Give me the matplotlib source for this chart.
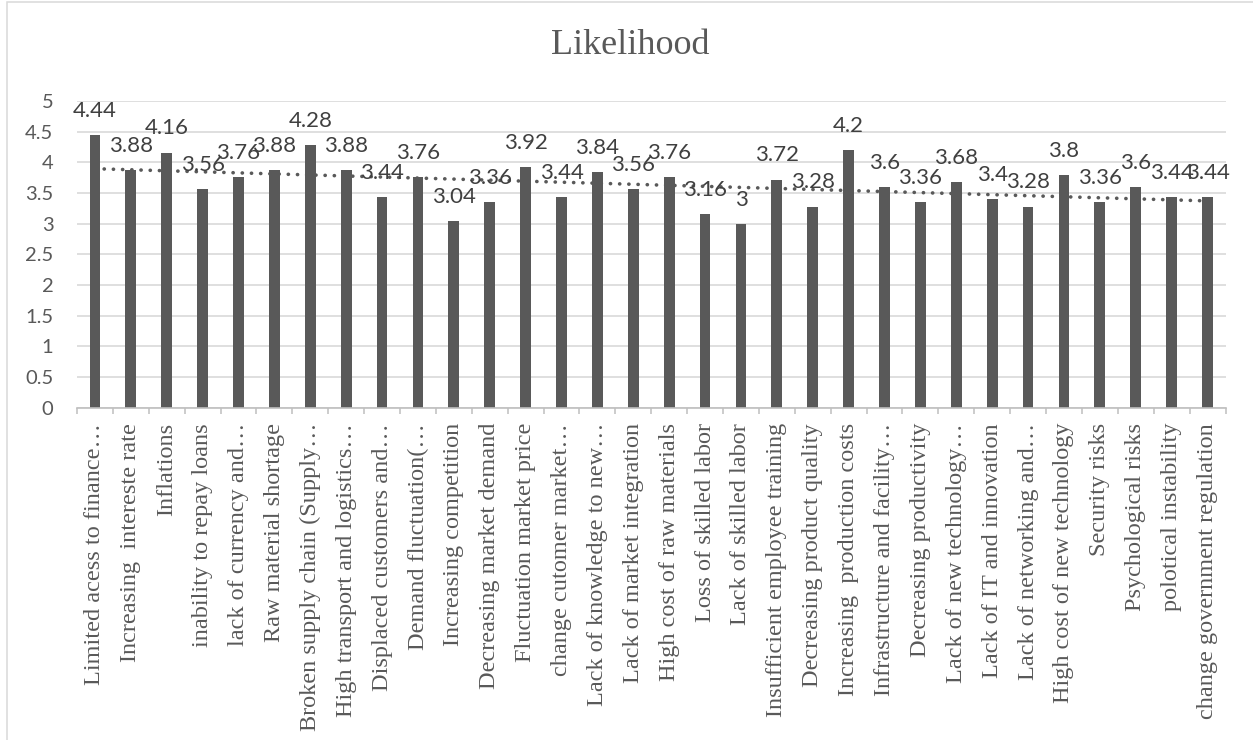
import numpy as np
import matplotlib
matplotlib.use("Agg")
import matplotlib.pyplot as plt
from matplotlib.patches import Rectangle
from matplotlib.ticker import FixedLocator

categories = [
    "Limited acess to finance…",
    "Increasing  intereste rate",
    "Inflations",
    "inability to repay loans",
    "lack of currency and…",
    "Raw material shortage",
    "Broken supply chain (Supply…",
    "High transport and logistics…",
    "Displaced customers and…",
    "Demand fluctuation(…",
    "Increasing competition",
    "Decreasing market demand",
    "Fluctuation market price",
    "change cutomer market…",
    "Lack of knowledge to new…",
    "Lack of market integration",
    "High cost of raw materials",
    "Loss of skilled labor",
    "Lack of skilled labor",
    "Insufficient employee training",
    "Decreasing product quality",
    "Increasing  production costs",
    "Infrastructure and facility…",
    "Decreasing productivity",
    "Lack of new technology…",
    "Lack of IT and innovation",
    "Lack of networking and…",
    "High cost of new technology",
    "Security risks",
    "Psychological risks",
    "polotical instability",
    "change government regulation",
]

likelihood = [
    4.44, 3.88, 4.16, 3.56, 3.76, 3.88, 4.28, 3.88, 3.44, 3.76,
    3.04, 3.36, 3.92, 3.44, 3.84, 3.56, 3.76, 3.16, 3.00, 3.72,
    3.28, 4.20, 3.60, 3.36, 3.68, 3.40, 3.28, 3.80, 3.36, 3.60,
    3.44, 3.44,
]

y_ticks = [0, 0.5, 1, 1.5, 2, 2.5, 3, 3.5, 4, 4.5, 5]

TEXT_GREY = "#595959"
LABEL_GREY = "#404040"
BAR_GREY = "#595959"
GRID_GREY = "#d9d9d9"
AXIS_GREY = "#bfbfbf"

W, H = 1253, 740
fig = plt.figure(figsize=(W / 100, H / 100), dpi=100)
fig.patch.set_facecolor("white")

# chart area outline
fig.add_artist(Rectangle((7 / W, -0.1), 1.2, 1.1 - 2.5 / H,
                         transform=fig.transFigure, fill=False,
                         edgecolor=GRID_GREY, linewidth=1.1))

left, right = 77 / W, 1225.5 / W
bottom, top = 1 - 407.7 / H, 1 - 101 / H
ax = fig.add_axes([left, bottom, right - left, top - bottom])

n = len(categories)
x = np.arange(n)
ax.bar(x, likelihood, width=0.3, color=BAR_GREY, zorder=3)

# linear trend line
coef = np.polyfit(x, likelihood, 1)
trend = np.polyval(coef, x)
ax.plot(x, trend, color=BAR_GREY, linewidth=2.6,
        linestyle=(0, (0.05, 2.5)), dash_capstyle="round", zorder=2)

for xi, v in zip(x, likelihood):
    ax.annotate(f"{v:g}", (xi, v), xytext=(0, 13), textcoords="offset points",
                ha="center", va="baseline", fontsize=16, family="Lato",
                color=LABEL_GREY, zorder=5)

ax.set_xlim(-0.5, n - 0.5)
ax.set_ylim(0, 5)
ax.set_yticks(y_ticks)
ax.set_yticklabels([f"{t:g}" for t in y_ticks], family="Lato", fontsize=14.5,
                   color=TEXT_GREY)
ax.tick_params(axis="y", length=0, pad=17)
ax.yaxis.grid(True, color=GRID_GREY, linewidth=1.2, zorder=0)
ax.set_axisbelow(True)

ax.set_xticks(x)
ax.set_xticklabels(categories, rotation=90, family="Liberation Serif",
                   fontsize=17.5, color=TEXT_GREY, va="top", ha="center")
ax.tick_params(axis="x", which="major", length=0, pad=11)
ax.xaxis.set_minor_locator(FixedLocator(np.arange(-0.5, n, 1.0)))
ax.tick_params(axis="x", which="minor", length=4, width=1.1, color=AXIS_GREY)

for side in ("left", "right", "top"):
    ax.spines[side].set_visible(False)
ax.spines["bottom"].set_color(AXIS_GREY)
ax.spines["bottom"].set_linewidth(1.2)
ax.spines["bottom"].set_zorder(4)

fig.text(630 / W, 1 - 46 / H, "Likelihood", ha="center", va="center",
         family="Liberation Serif", fontsize=26, color=TEXT_GREY)

fig.savefig("out.png", dpi=100, facecolor="white")
